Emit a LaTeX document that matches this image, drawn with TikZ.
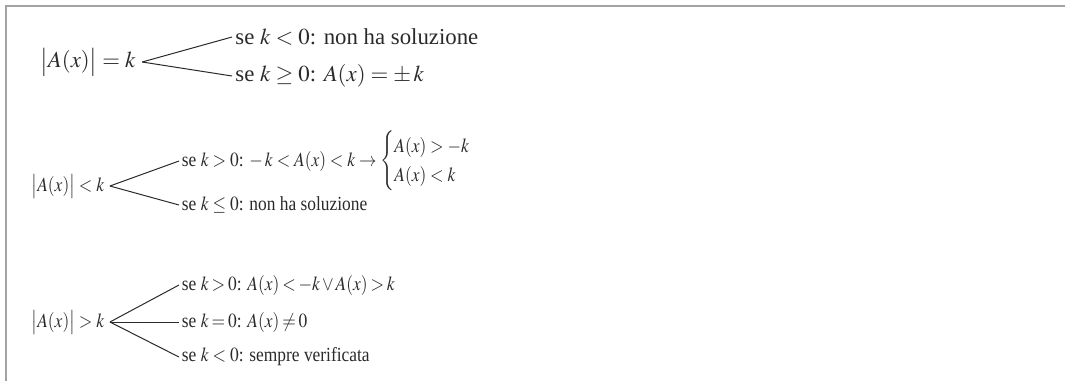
\documentclass[tikz,border=0pt]{standalone}
\usepackage{amsmath,amssymb}
\usepackage{mathptmx}
\usepackage{fontspec}
\setmainfont{Liberation Serif}
\usetikzlibrary{positioning}
\definecolor{frame}{HTML}{A3A3A3}
\definecolor{ink}{HTML}{2A2A2A}

\begin{document}
\begin{tikzpicture}[x=0.5pt,y=-0.5pt, every node/.style={text=ink},
    big/.style={font=\fontsize{11.4}{13.5}\selectfont},
    compact/.style={font=\fontsize{10}{12}\selectfont},
    root/.style={anchor=west,inner sep=3pt},
    leaf/.style={anchor=west,inner sep=1.5pt},
    narrow/.style={compact,xscale=0.87},
    tight/.style={execute at begin node={\thickmuskip=3mu\medmuskip=2mu}},
    branch/.style={draw=ink,line width=0.5pt}]
  \useasboundingbox (0,0) rectangle (1065,381);
  \draw[frame,line width=1pt] (6,381) -- (6,6) -- (1065,6);

  % |A(x)| = k
  \node[root,big] (eq) at (34,62) {$\bigl|A(x)\bigr| = k$};
  \node[leaf,big] (eqa) at (232,37) {se $k < 0$: non ha soluzione};
  \node[leaf,big] (eqb) at (232,76) {se $k \geq 0$: $A(x) = \pm\, k$};
  \draw[branch] (eq.east) -- (eqa.west);
  \draw[branch] (eq.east) -- (eqb.west);

  % |A(x)| < k
  \node[root,narrow] (lt) at (26,186) {$\bigl|A(x)\bigr| < k$};
  \node[leaf,narrow] (lta) at (179,161) {se $k > 0$: $-\,k < A(x) < k \rightarrow
    \begin{cases} A(x) > -k\\ A(x) < k \end{cases}$};
  \node[leaf,narrow] (ltb) at (179,205) {se $k \leq 0$: non ha soluzione};
  \draw[branch] (lt.east) -- (lta.west);
  \draw[branch] (lt.east) -- (ltb.west);

  % |A(x)| > k
  \node[root,narrow] (gt) at (26,322) {$\bigl|A(x)\bigr| > k$};
  \node[leaf,narrow,tight] (gta) at (179,285) {se $k > 0$: $A(x) < -k \vee A(x) > k$};
  \node[leaf,narrow,tight] (gtb) at (179,322) {se $k = 0$: $A(x) \neq 0$};
  \node[leaf,narrow] (gtc) at (179,357) {se $k < 0$: sempre verificata};
  \draw[branch] (gt.east) -- (gta.west);
  \draw[branch] (gt.east) -- (gtb.west);
  \draw[branch] (gt.east) -- (gtc.west);
\end{tikzpicture}
\end{document}
